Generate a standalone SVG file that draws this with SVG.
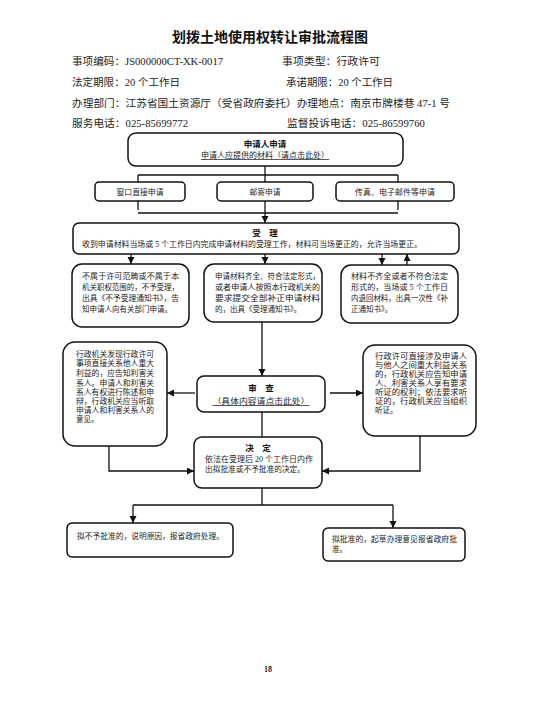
<svg xmlns="http://www.w3.org/2000/svg" width="536" height="715" viewBox="0 0 536 715">
<style>
.hd{font-family:"Liberation Serif","Noto Sans CJK SC",serif;font-size:10px;fill:#222}
.ttl{font-family:"Noto Sans CJK SC",sans-serif;font-size:14px;font-weight:bold;fill:#111}
.bx{fill:#fff;stroke:#111;stroke-width:1.5}
.t{font-family:"Liberation Serif","Noto Sans CJK SC",serif;font-size:7.5px;fill:#222}
.b{font-family:"Noto Sans CJK SC",sans-serif;font-size:8.5px;font-weight:bold;fill:#111}
.u{text-decoration:underline}
.c{fill:none;stroke:#111;stroke-width:1.3}
.pg{font-family:"Liberation Serif",serif;font-size:8px;font-weight:bold;fill:#222}
</style>
<defs>
<marker id="ar" markerUnits="userSpaceOnUse" markerWidth="8" markerHeight="8" refX="7" refY="3.5" orient="auto">
<path d="M0,0 L7,3.5 L0,7 Z" fill="#111"/>
</marker>
</defs>
<rect width="536" height="715" fill="#fff"/>

<g id="header">
<text class="ttl" x="270" y="42" text-anchor="middle">划拨土地使用权转让审批流程图</text>
<text class="hd" x="72" y="65" textLength="151" lengthAdjust="spacingAndGlyphs">事项编码：JS000000CT-XK-0017</text>
<text class="hd" x="282" y="65" textLength="98" lengthAdjust="spacingAndGlyphs">事项类型：行政许可</text>
<text class="hd" x="72" y="86" textLength="108" lengthAdjust="spacingAndGlyphs">法定期限：20 个工作日</text>
<text class="hd" x="286" y="86" textLength="107" lengthAdjust="spacingAndGlyphs">承诺期限：20 个工作日</text>
<text class="hd" x="72" y="107" textLength="378" lengthAdjust="spacingAndGlyphs">办理部门：江苏省国土资源厅（受省政府委托）办理地点：南京市牌楼巷 47-1 号</text>
<text class="hd" x="72" y="127" textLength="116" lengthAdjust="spacingAndGlyphs">服务电话：025-85699772</text>
<text class="hd" x="287" y="127" textLength="138" lengthAdjust="spacingAndGlyphs">监督投诉电话：025-86599760</text>
</g>

<g id="connectors">
<path class="c" d="M265,166 V182 M138,175 H398 M138,175 V182 M398,175 V182"/>
<path class="c" d="M138,201 V210 M398,201 V210 M138,213 H398"/>
<path class="c" d="M265,201 V223" marker-end="url(#ar)"/>
<path class="c" d="M131,254 V264" marker-end="url(#ar)"/>
<path class="c" d="M265,254 V264" marker-end="url(#ar)"/>
<path class="c" d="M382,254 V265" marker-end="url(#ar)"/>
<path class="c" d="M407,265 V254" marker-end="url(#ar)"/>
<path class="c" d="M262,322 V376" marker-end="url(#ar)"/>
<path class="c" d="M195,393 H167" marker-end="url(#ar)"/>
<path class="c" d="M330,393 H363" marker-end="url(#ar)"/>
<path class="c" d="M262,412 V437"/>
<path class="c" d="M109,446 V471 H194" marker-end="url(#ar)"/>
<path class="c" d="M420,436 V471 H322" marker-end="url(#ar)"/>
<path class="c" d="M262,488 V505 M133,505 H393"/>
<path class="c" d="M133,505 V523" marker-end="url(#ar)"/>
<path class="c" d="M393,505 V528" marker-end="url(#ar)"/>
</g>

<g id="apply">
<rect class="bx" x="128" y="133" width="275" height="33" rx="8"/>
<text class="b" x="265" y="147" text-anchor="middle">申请人申请</text>
<text class="t u" x="265" y="158" text-anchor="middle" textLength="128" lengthAdjust="spacingAndGlyphs">申请人应提供的材料（请点击此处）</text>
</g>

<g id="window">
<rect class="bx" x="95" y="182" width="90" height="19" rx="4"/>
<text class="t" x="140" y="195" text-anchor="middle" textLength="47" lengthAdjust="spacingAndGlyphs">窗口直接申请</text>
</g>
<g id="mail">
<rect class="bx" x="217" y="182" width="96" height="19" rx="4"/>
<text class="t" x="265" y="195" text-anchor="middle" textLength="31" lengthAdjust="spacingAndGlyphs">邮寄申请</text>
</g>
<g id="fax">
<rect class="bx" x="336" y="182" width="118" height="19" rx="4"/>
<text class="t" x="395" y="195" text-anchor="middle" textLength="80" lengthAdjust="spacingAndGlyphs">传真、电子邮件等申请</text>
</g>

<g id="accept">
<rect class="bx" x="73" y="223" width="386" height="31" rx="6"/>
<text class="b" x="265" y="236" text-anchor="middle">受　理</text>
<text class="t" x="82" y="247" textLength="340" lengthAdjust="spacingAndGlyphs">收到申请材料当场或 5 个工作日内完成申请材料的受理工作，材料可当场更正的，允许当场更正。</text>
</g>

<g id="reject">
<rect class="bx" x="72" y="264" width="117" height="63" rx="10"/>
<text class="t" x="82" y="279" textLength="97" lengthAdjust="spacingAndGlyphs">不属于许可范畴或不属于本</text>
<text class="t" x="82" y="290" textLength="97" lengthAdjust="spacingAndGlyphs">机关职权范围的，不予受理，</text>
<text class="t" x="82" y="301" textLength="97" lengthAdjust="spacingAndGlyphs">出具《不予受理通知书》，告</text>
<text class="t" x="82" y="312">知申请人向有关部门申请。</text>
</g>

<g id="accepted">
<rect class="bx" x="204" y="264" width="118" height="58" rx="10"/>
<text class="t" x="215" y="279" textLength="105" lengthAdjust="spacingAndGlyphs">申请材料齐全、符合法定形式，</text>
<text class="t" x="215" y="290" textLength="105" lengthAdjust="spacingAndGlyphs">或者申请人按照本行政机关的</text>
<text class="t" x="215" y="301" textLength="105" lengthAdjust="spacingAndGlyphs">要求提交全部补正申请材料</text>
<text class="t" x="215" y="312">的，出具《受理通知书》。</text>
</g>

<g id="incomplete">
<rect class="bx" x="341" y="265" width="117" height="58" rx="10"/>
<text class="t" x="351" y="279" textLength="97" lengthAdjust="spacingAndGlyphs">材料不齐全或者不符合法定</text>
<text class="t" x="351" y="290" textLength="97" lengthAdjust="spacingAndGlyphs">形式的，当场或 5 个工作日</text>
<text class="t" x="351" y="301" textLength="97" lengthAdjust="spacingAndGlyphs">内退回材料，出具一次性《补</text>
<text class="t" x="351" y="312">正通知书》。</text>
</g>

<g id="stakeholder">
<rect class="bx" x="63" y="342" width="104" height="104" rx="12"/>
<text class="t" x="76" y="357" textLength="78" lengthAdjust="spacingAndGlyphs">行政机关发现行政许可</text>
<text class="t" x="76" y="366" textLength="78" lengthAdjust="spacingAndGlyphs">事项直接关系他人重大</text>
<text class="t" x="76" y="376" textLength="78" lengthAdjust="spacingAndGlyphs">利益的，应告知利害关</text>
<text class="t" x="76" y="386" textLength="78" lengthAdjust="spacingAndGlyphs">系人。申请人和利害关</text>
<text class="t" x="76" y="395" textLength="78" lengthAdjust="spacingAndGlyphs">系人有权进行陈述和申</text>
<text class="t" x="76" y="404" textLength="78" lengthAdjust="spacingAndGlyphs">辩，行政机关应当听取</text>
<text class="t" x="76" y="413" textLength="78" lengthAdjust="spacingAndGlyphs">申请人和利害关系人的</text>
<text class="t" x="76" y="422">意见。</text>
</g>

<g id="review">
<rect class="bx" x="197" y="376" width="128" height="36" rx="7"/>
<text class="b" x="261" y="391" text-anchor="middle">审　查</text>
<text class="t u" x="261" y="404" text-anchor="middle" textLength="97" lengthAdjust="spacingAndGlyphs">（具体内容请点击此处）</text>
</g>

<g id="hearing">
<rect class="bx" x="363" y="345" width="113" height="91" rx="12"/>
<text class="t" x="375" y="359" textLength="92" lengthAdjust="spacingAndGlyphs">行政许可直接涉及申请人</text>
<text class="t" x="375" y="368" textLength="92" lengthAdjust="spacingAndGlyphs">与他人之间重大利益关系</text>
<text class="t" x="375" y="377" textLength="92" lengthAdjust="spacingAndGlyphs">的，行政机关应告知申请</text>
<text class="t" x="375" y="386" textLength="92" lengthAdjust="spacingAndGlyphs">人、利害关系人享有要求</text>
<text class="t" x="375" y="395" textLength="92" lengthAdjust="spacingAndGlyphs">听证的权利；依法要求听</text>
<text class="t" x="375" y="404" textLength="92" lengthAdjust="spacingAndGlyphs">证的，行政机关应当组织</text>
<text class="t" x="375" y="413">听证。</text>
</g>

<g id="decision">
<rect class="bx" x="194" y="437" width="128" height="51" rx="8"/>
<text class="b" x="258" y="451" text-anchor="middle">决　定</text>
<text class="t" x="205" y="462" textLength="108" lengthAdjust="spacingAndGlyphs">依法在受理后 20 个工作日内作</text>
<text class="t" x="205" y="472" textLength="100" lengthAdjust="spacingAndGlyphs">出拟批准或不予批准的决定。</text>
</g>

<g id="deny">
<rect class="bx" x="67" y="523" width="166" height="34" rx="5"/>
<text class="t" x="77" y="539" textLength="147" lengthAdjust="spacingAndGlyphs">拟不予批准的，说明原因，报省政府处理。</text>
</g>

<g id="approve">
<rect class="bx" x="323" y="528" width="142" height="33" rx="5"/>
<text class="t" x="332" y="542" textLength="125" lengthAdjust="spacingAndGlyphs">拟批准的，起草办理意见报省政府批</text>
<text class="t" x="332" y="552">准。</text>
</g>

<text class="pg" x="268" y="672" text-anchor="middle">18</text>
</svg>
